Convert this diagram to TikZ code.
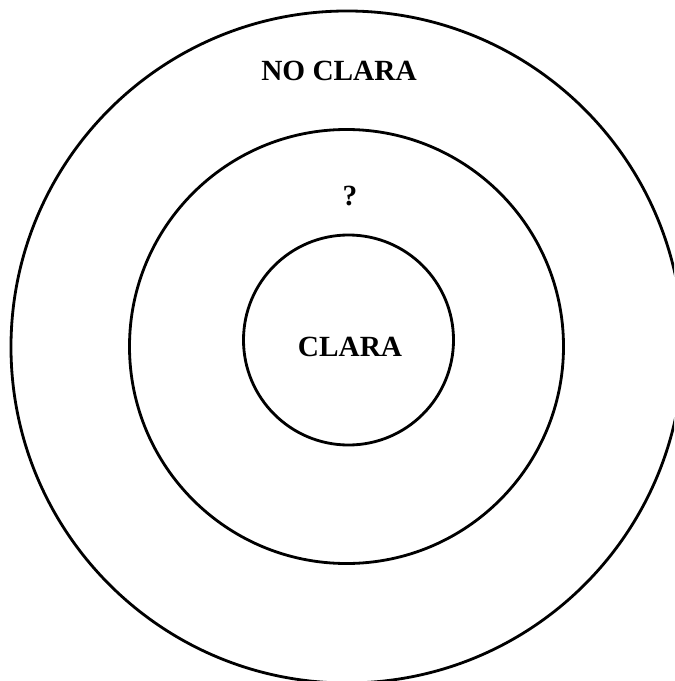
\documentclass[tikz,border=0pt]{standalone}
\usepackage{fontspec}
\setmainfont{Liberation Serif}
\usetikzlibrary{positioning}
\tikzset{
  ring/.style={draw,circle,inner sep=0pt,line width=2.4pt},
  zone/.style={font=\fontsize{25}{30}\selectfont\bfseries,inner sep=0pt}
}

\begin{document}
\begin{tikzpicture}[x=0.03cm,y=-0.03cm]
  \useasboundingbox (0,0) rectangle (674,681);
  \clip (0,0) rectangle (674,681);

  \node[ring,minimum size=20.16cm] (outer) at (347,347) {};
  \node[ring,minimum size=13.02cm] (middle) at (346.5,346.5) {};
  \node[ring,minimum size=6.3cm] (inner) at (348.5,340) {};

  \node[zone] (noclara) at (339,71) {NO CLARA};
  \node[zone] (unsure) at (350,196) {?};
  \node[zone] (clara) at (350,347) {CLARA};
\end{tikzpicture}
\end{document}
